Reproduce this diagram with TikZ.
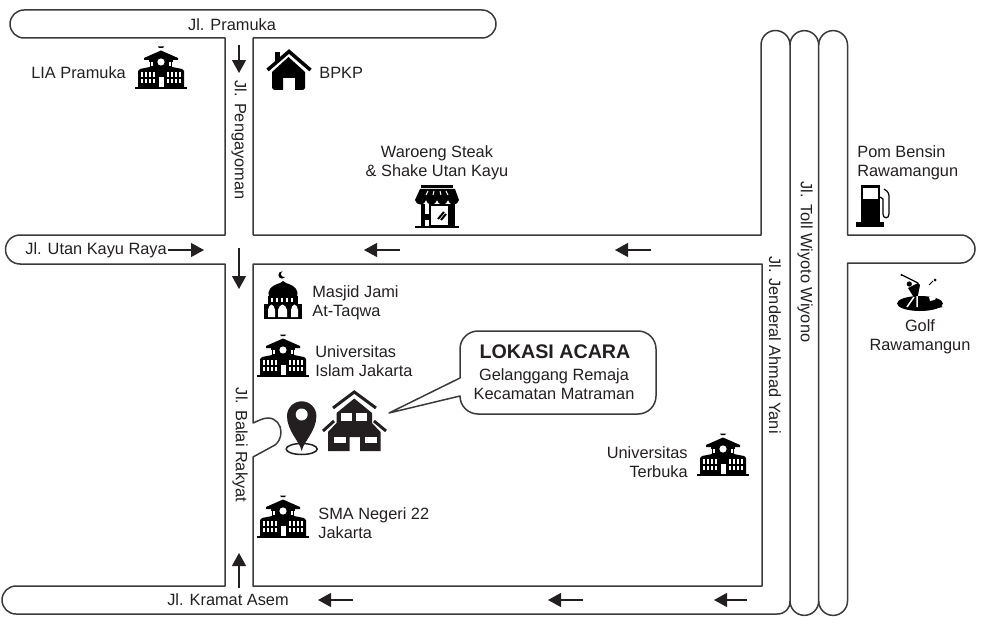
\documentclass[tikz,border=0pt]{standalone}
\usepackage{fontspec}
\setmainfont{Liberation Sans}
\usetikzlibrary{arrows.meta}

\definecolor{roadline}{HTML}{3A3A3A}
\definecolor{inkdark}{HTML}{231F20}

\tikzset{
    road/.style={draw=roadline, line width=0.03cm, line join=round},
    roadarrow/.style={draw=inkdark, line width=0.024cm, -{Triangle[length=0.26cm,width=0.28cm]}},
    maptext/.style={font=\fontsize{9.3}{10.8}\selectfont, text=inkdark, inner sep=0pt, align=left},
    maptextc/.style={maptext, align=center},
    maptextr/.style={maptext, align=right},
    pics/school/.style={code={
        \fill[black] (-26,-2) rectangle (26,0);
        \fill[black] (-23,-2) -- (-23,-18) -- (-21,-20) -- (-11,-22) -- (-12,-29) -- (-17,-29)
            -- (-17,-31) -- (0,-38.5) -- (17,-31) -- (17,-29) -- (12,-29) -- (11,-22) -- (21,-20)
            -- (23,-18) -- (23,-2) -- cycle;
        \fill[black] (-3,-42.5) -- (3,-42.5) -- (2,-41) -- (-2,-41) -- cycle;
        \fill[white] (0,-27) circle (3.6);
        \fill[white] (-2.5,-2) rectangle (2.5,-12);
        \foreach \wx in {-11.7,-8.7,8.7,11.7} {
            \fill[white] (\wx-1,-23) rectangle (\wx+1,-27);
        }
        \foreach \wx in {-19,-15,-11,-7,7,11,15,19} {
            \foreach \wy in {-14.5,-8} {
                \fill[white] (\wx-1.2,\wy-2.2) rectangle (\wx+1.2,\wy+2.2);
            }
        }
    }}
}

\begin{document}
\begin{tikzpicture}[x=0.02cm,y=-0.02cm]
    \useasboundingbox (0,0) rectangle (981,625);

    \draw[road] (253,235) -- (253,38) -- (482,38) arc (90:-90:14) -- (24,10) arc (270:90:14)
        -- (225,38) -- (225,235) -- (20,235) arc (270:90:14.5) -- (225,264) -- (225,586)
        -- (16,586) arc (270:90:14) -- (777,614) .. controls (785,614) and (790,609) .. (790,601)
        -- (790,45) arc (180:360:14.35) -- (818.7,601) arc (0:180:14.35);
    \draw[road] (253,235) -- (761,235) -- (761,45) arc (180:360:14.5);
    \draw[road] (818.7,45) arc (180:360:14.4) -- (847.5,235) -- (961,235) arc (-90:90:14)
        -- (847.5,263) -- (847.5,601) arc (0:180:14.4);
    \draw[road] (253,423) .. controls (258,421) and (263,418) .. (268,418)
        .. controls (276,418) and (281,425) .. (281,432)
        .. controls (281,438) and (278,443) .. (275,445) -- (253,457) -- (253,586)
        -- (762,586) -- (762,264) -- (253,264) -- cycle;

    \coordinate (pengayomanA) at (239,45);
    \coordinate (pengayomanB) at (239,73);
    \draw[roadarrow] (pengayomanA) -- (pengayomanB);
    \coordinate (balaiA) at (239,248);
    \coordinate (balaiB) at (239,289);
    \draw[roadarrow] (balaiA) -- (balaiB);
    \coordinate (balaiC) at (239,588);
    \coordinate (balaiD) at (239,553);
    \draw[roadarrow] (balaiC) -- (balaiD);
    \coordinate (utanA) at (168,250);
    \coordinate (utanB) at (204,250);
    \draw[roadarrow] (utanA) -- (utanB);
    \coordinate (utanC) at (400,250);
    \coordinate (utanD) at (364,250);
    \draw[roadarrow] (utanC) -- (utanD);
    \coordinate (utanE) at (651,250);
    \coordinate (utanF) at (615,250);
    \draw[roadarrow] (utanE) -- (utanF);
    \coordinate (kramatA) at (353,600);
    \coordinate (kramatB) at (318,600);
    \draw[roadarrow] (kramatA) -- (kramatB);
    \coordinate (kramatC) at (583,600);
    \coordinate (kramatD) at (548,600);
    \draw[roadarrow] (kramatC) -- (kramatD);
    \coordinate (kramatE) at (747,600);
    \coordinate (kramatF) at (714,600);
    \draw[roadarrow] (kramatE) -- (kramatF);

    \node[maptext, anchor=center] (pramuka) at (232,24.5) {Jl. Pramuka};
    \node[maptext, anchor=west] (utankayu) at (25,250.5) {Jl. Utan Kayu Raya};
    \node[maptext, anchor=center] (kramat) at (228,600) {Jl. Kramat Asem};
    \node[maptext, rotate=-90] (pengayoman) at (239,140) {Jl. Pengayoman};
    \node[maptext, rotate=-90] (balai) at (240,445) {Jl. Balai Rakyat};
    \node[maptext, rotate=-90] (yani) at (775,345) {Jl. Jenderal Ahmad Yani};
    \node[maptext, rotate=-90] (toll) at (805,262) {Jl. Toll Wiyoto Wiyono};

    \node[maptext, anchor=west] (lia) at (31,73) {LIA Pramuka};
    \node[maptext, anchor=west] (bpkp) at (319,73) {BPKP};
    \node[maptextc] (waroeng) at (437,162.5) {Waroeng Steak\\\& Shake Utan Kayu};
    \node[maptext, anchor=west] (masjid) at (312,303) {Masjid Jami\\At-Taqwa};
    \node[maptext, anchor=west] (uij) at (315,361.5) {Universitas\\Islam Jakarta};
    \node[maptext, anchor=west] (sma) at (318,523.5) {SMA Negeri 22\\Jakarta};
    \node[maptextr, anchor=east] (ut) at (688,462.5) {Universitas\\Terbuka};
    \node[maptext, anchor=west] (pom) at (857,162.5) {Pom Bensin\\Rawamangun};
    \node[maptextc] (golf) at (920,336.5) {Golf\\Rawamangun};

    \draw[road] (460,378) -- (460,349) arc (180:270:18) -- (638,331) arc (270:360:18)
        -- (656,396) arc (0:90:18) -- (478,414) arc (90:180:18) -- (389,413) -- cycle;
    \node[maptext, anchor=center, font=\fontsize{11.2}{12}\bfseries\selectfont] (lokasi) at (555,352) {LOKASI ACARA};
    \node[maptextc] (gelanggang) at (554,384) {Gelanggang Remaja\\Kecamatan Matraman};

    \pic (schoolLia) at (161,89) {school};
    \pic (schoolUij) at (283,377) {school};
    \pic (schoolSma) at (283,538) {school};
    \pic (schoolUt) at (723,476) {school};

    \fill[black] (272,72) -- (288.5,57) -- (305,72) -- (305,88) -- (303,90) -- (295,90) -- (295,78)
        -- (283,78) -- (283,90) -- (274,90) -- (272,88) -- cycle;
    \draw[black, line width=0.07cm] (267.5,70) -- (289,51.5) -- (310.5,70);
    \fill[black] (275,52) rectangle (280,62);

    \fill[black] (282,275) circle (3.6);
    \fill[white] (284,274) circle (3);
    \fill[black] (283,281) -- (286,283) .. controls (296,286) and (299,291) .. (297,297)
        -- (269,297) .. controls (267,291) and (270,286) .. (280,283) -- cycle;
    \fill[black] (268,296) rectangle (298,304);
    \fill[black] (264,304) rectangle (302,319);
    \foreach \wx in {272,277,282,287,292} {
        \fill[white] (\wx-1,298) rectangle (\wx+1,302);
    }
    \fill[white] (268,317) -- (268,310) .. controls (268,307) and (270,305) .. (271.5,304.5)
        .. controls (273,305) and (275,307) .. (275,310) -- (275,317) -- cycle;
    \fill[white] (278,317) -- (278,310) .. controls (278,307) and (281,305) .. (282.5,304.5)
        .. controls (284,305) and (287,307) .. (287,310) -- (287,317) -- cycle;
    \fill[white] (291,317) -- (291,310) .. controls (291,307) and (293,305) .. (294.5,304.5)
        .. controls (296,305) and (298,307) .. (298,310) -- (298,317) -- cycle;

    \draw[inkdark, line width=0.03cm] (301.7,449) ellipse (15.5 and 5.5);
    \fill[inkdark] (301.7,451) .. controls (300,442) and (287,431) .. (287,416)
        arc (180:360:14.7) .. controls (316.4,431) and (303.4,442) .. (301.7,451) -- cycle;
    \fill[white] (301.7,414.5) circle (6);

    \fill[inkdark] (354.3,398.5) -- (372,413) -- (372,423) -- (380.5,432) -- (380.5,451) -- (360,451) -- (360,437)
        -- (349.5,437) -- (349.5,451) -- (328,451) -- (328,432) -- (336.5,423) -- (336.5,413) -- cycle;
    \fill[white] (341,413) rectangle (352,421);
    \fill[white] (356,413) rectangle (367,421);
    \fill[white] (334,437) rectangle (345.5,442.5);
    \fill[white] (365,437) rectangle (376.5,442.5);
    \draw[inkdark, line width=0.06cm] (333,408) -- (354.3,392) -- (376,408);
    \draw[inkdark, line width=0.06cm] (323,431) -- (334,421);
    \draw[inkdark, line width=0.06cm] (386,431) -- (374,421);

    \fill[black] (421,185) rectangle (453,188);
    \fill[black] (420,189) -- (455,189) -- (459,200) .. controls (458,206) and (449,206) .. (448,200)
        .. controls (447,206) and (438,206) .. (437,200) .. controls (436,206) and (427,206) .. (426,200)
        .. controls (425,206) and (416,206) .. (415,200) -- cycle;
    \draw[white, line width=0.02cm] (428,191) -- (426,195);
    \draw[white, line width=0.02cm] (434,191) -- (433,195);
    \draw[white, line width=0.02cm] (440,191) -- (441,195);
    \draw[white, line width=0.02cm] (446,191) -- (448,195);
    \fill[black] (421,204) rectangle (425,226);
    \fill[black] (450,204) rectangle (455,226);
    \fill[black] (415,225.5) rectangle (459,228);
    \draw[black, line width=0.03cm] (430,205) rectangle (449,226);
    \fill[black] (425,214) rectangle (430,220);
    \draw[black, line width=0.04cm] (438,219) -- (444,212);
    \draw[black, line width=0.04cm] (441,220) -- (446,214);

    \fill[black] (861,185) rectangle (880,222);
    \fill[black] (856,222) rectangle (884,227);
    \fill[white] (863,188) rectangle (878,199);
    \draw[black, line width=0.024cm] (884,189) .. controls (889,192) and (889,194) .. (889,198)
        -- (889,214) .. controls (889,219) and (883,219) .. (883,214) -- (883,199) -- (880,197);

    \fill[black] (920,303.5) ellipse (23 and 7.5);
    \fill[black] (930,302) .. controls (935,305) and (940,305) .. (943,307) .. controls (938,308) and (932,309) .. (925,309) -- cycle;
    \fill[white] (929,297) .. controls (935,296) and (941,299) .. (930,301) -- cycle;
    \fill[black] (909.3,284) circle (2.6);
    \fill[black] (908,288) -- (918,283) -- (920,285) -- (918,295) -- (917,305) -- (911,305) -- (913,296) -- cycle;
    \draw[white, line width=0.03cm] (914,297) -- (907,307) (917,296) -- (917,307);
    \draw[black, line width=0.024cm] (902,275) -- (918,283);
    \fill[black] (901.5,275) circle (1.1);
    \fill[black] (935,280) circle (1.5);
    \draw[black, line width=0.02cm] (929,285) -- (933,281);
\end{tikzpicture}
\end{document}
